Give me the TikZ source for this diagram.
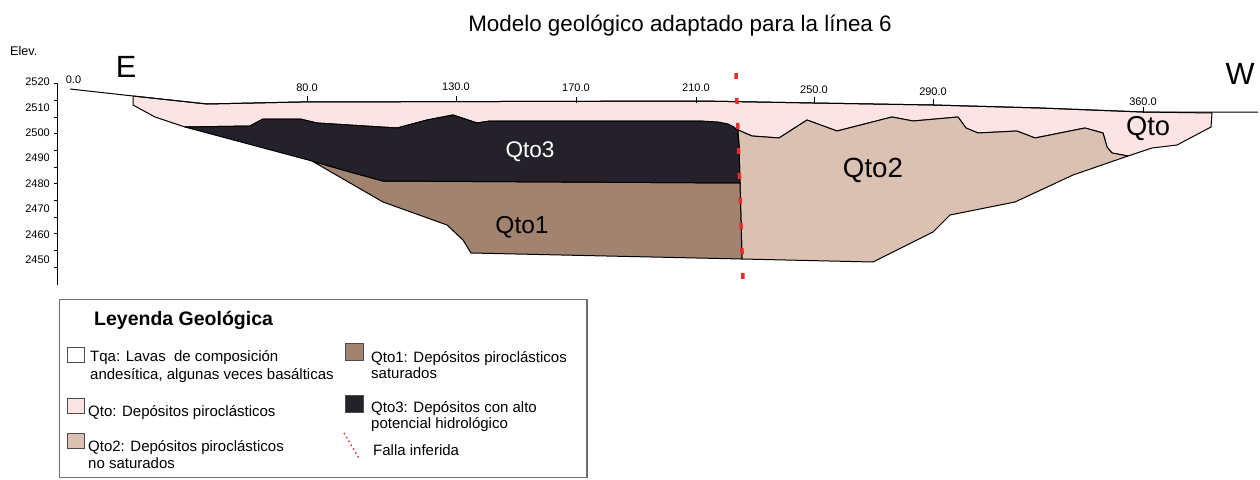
\documentclass[tikz,border=0pt]{standalone}
\usepackage{fontspec}
\setmainfont{Liberation Sans}
\usetikzlibrary{calc}

\definecolor{qtopink}{RGB}{253,228,228}
\definecolor{qtotan}{RGB}{219,193,177}
\definecolor{qtobrown}{RGB}{162,131,112}
\definecolor{qtoblack}{RGB}{36,33,43}
\definecolor{fallared}{RGB}{232,45,40}
\definecolor{legendgray}{RGB}{110,110,110}

\tikzset{
  unit/.style={draw=black, line width=1pt, line join=round},
  axlbl/.style={inner sep=0pt, font=\fontsize{11}{13}\selectfont},
  unitlbl/.style={inner sep=0pt},
  swatch/.style={draw=black!70, line width=0.9pt, inner sep=0pt},
  legtext/.style={anchor=base west, inner sep=0pt, font=\fontsize{15}{17}\selectfont},
  fault/.style={draw=fallared, line width=3.5pt, dash pattern=on 6pt off 19pt},
}

\begin{document}
\begin{tikzpicture}[x=1pt,y=-1pt]
  \useasboundingbox (0,0) rectangle (1260,479);

  % Qto, light pink cover
  \filldraw[unit, fill=qtopink] (133,96) -- (207,104) -- (300,102) -- (700,101) -- (814,103)
    -- (933,105) -- (1040,108) -- (1143,112) -- (1212,113) -- (1211,127) -- (1177,145)
    -- (1152,148) -- (1128,156) -- (1112,153) -- (1107,147) -- (1103,133) -- (1085,128)
    -- (1035,138) -- (1017,131) -- (978,133) -- (966,128) -- (958,117) -- (913,121)
    -- (892,117) -- (837,131) -- (807,120) -- (779,138) -- (752,136) -- (738,130)
    -- (733,127) -- (720,123) -- (700,121) -- (490,121) -- (477,123) -- (453,115)
    -- (427,120) -- (397,128) -- (317,123) -- (300,119) -- (263,119) -- (250,126)
    -- (185,127) -- (155,117) -- (133,105) -- cycle;

  % Qto2
  \filldraw[unit, fill=qtotan] (738,130) -- (752,136) -- (779,138) -- (807,120) -- (837,131)
    -- (892,117) -- (913,121) -- (958,117) -- (966,128) -- (978,133) -- (1017,131)
    -- (1035,138) -- (1085,128) -- (1103,133) -- (1107,147) -- (1112,153) -- (1128,156)
    -- (1073,175) -- (1015,202) -- (950,215) -- (933,232) -- (873,262) -- (742,259)
    -- (740,183) -- (739,145) -- cycle;

  % Qto1
  \filldraw[unit, fill=qtobrown] (312,161) -- (350,172) -- (383,181) -- (740,183)
    -- (742,259) -- (471,253) -- (463,240) -- (447,225) -- (383,202) -- cycle;

  % Qto3
  \filldraw[unit, fill=qtoblack] (185,127) -- (250,126) -- (263,119) -- (300,119) -- (317,123)
    -- (397,128) -- (427,120) -- (453,115) -- (477,123) -- (490,121) -- (700,121)
    -- (718,122) -- (728,124) -- (734,127) -- (737.5,131) -- (739,145) -- (740,183)
    -- (383,181) -- (350,172) -- (312,161) -- cycle;

  % topographic surface
  \draw[line width=1pt, line join=round] (70,89) -- (133,96) -- (207,104) -- (300,102)
    -- (700,101) -- (814,103) -- (933,105) -- (1040,108) -- (1143,112) -- (1258,112);

  % inferred fault
  \coordinate (fa) at (736,73);
  \coordinate (fb) at (743,281);
  \draw[fault] (fa) -- (fb);

  % elevation axis
  \draw[line width=0.9pt] (57,83) -- (57,285);
  \foreach \k in {0,...,11}
    \draw[line width=0.8pt] (57,83.5+16.7*\k) -- ++(-3,0);
  \foreach \e [count=\i from 0] in {2520,2510,2500,2490,2480,2470,2460,2450}
    \node[axlbl, anchor=east] (elev\e) at (50,82+25.4*\i) {\e};
  \node[anchor=base west, inner sep=0pt, font=\fontsize{12.6}{14}\selectfont] (elevtit) at (10,55) {Elev.};

  % distances along the section
  \node[axlbl] (d0) at (73.5,79.5) {0.0};
  \foreach \d/\x/\y/\t in {80/307/88/96, 130/456/87/96, 170/576/88/97, 210/696/88/97,
                           250/814/90/97, 290/933/92/99, 360/1143/102/107} {
    \node[axlbl] (d\d) at (\x,\y) {\d.0};
    \draw[line width=0.8pt] (\x,\t) -- (\x,\t+6);
  }

  \node[anchor=base, inner sep=0pt, font=\fontsize{22.4}{26}\selectfont] (title) at (680,31.7)
    {Modelo geológico adaptado para la línea 6};
  \node[anchor=base, inner sep=0pt, font=\fontsize{30.7}{34}\selectfont] (este) at (126,77) {E};
  \node[anchor=base, inner sep=0pt, font=\fontsize{30.7}{34}\selectfont] (oeste) at (1240,84) {W};

  % unit names
  \node[unitlbl, text=white, font=\fontsize{22.6}{26}\selectfont] (lqto3) at (530,152) {Qto3};
  \node[unitlbl, font=\fontsize{24.5}{28}\selectfont] (lqto1) at (522,227) {Qto1};
  \node[unitlbl, font=\fontsize{27.7}{31}\selectfont] (lqto2) at (873,170) {Qto2};
  \node[unitlbl, font=\fontsize{27.3}{31}\selectfont] (lqto) at (1148,129) {Qto};

  % legend
  \draw[draw=legendgray, line width=1.5pt] (59.5,299.5) rectangle (587,477.5);
  \node[anchor=base west, inner sep=0pt, font=\bfseries\fontsize{19.5}{22}\selectfont] (legtit)
    at (94,325) {Leyenda Geológica};

  \node[swatch, fill=white, minimum width=17pt, minimum height=15pt] (sqta) at (75.5,355) {};
  \node[legtext] (tqa1) at (90,361.7) {Tqa: Lavas\ \ de composición};
  \node[legtext] (tqa2) at (90,379) {andesítica, algunas veces basálticas};

  \node[swatch, fill=qtopink, minimum width=17pt, minimum height=15pt] (sqto) at (75.5,405.5) {};
  \node[legtext] (tqto) at (88,416) {Qto: Depósitos piroclásticos};

  \node[swatch, fill=qtotan, minimum width=17pt, minimum height=15pt] (sqto2) at (75.5,440.5) {};
  \node[legtext] (tqto2a) at (88,451) {Qto2: Depósitos piroclásticos};
  \node[legtext] (tqto2b) at (88,468) {no saturados};

  \node[swatch, fill=qtobrown, minimum width=18pt, minimum height=17pt] (sqto1) at (354,351.5) {};
  \node[legtext] (tqto1a) at (371,362) {Qto1: Depósitos piroclásticos};
  \node[legtext] (tqto1b) at (371,378) {saturados};

  \node[swatch, fill=qtoblack, minimum width=18pt, minimum height=17pt] (sqto3) at (354,403.5) {};
  \node[legtext] (tqto3a) at (371,412) {Qto3: Depósitos con alto};
  \node[legtext] (tqto3b) at (371,428) {potencial hidrológico};

  \coordinate (la) at (344,433);
  \coordinate (lb) at (360,460);
  \draw[draw=fallared, line width=1.4pt, dash pattern=on 1.5pt off 3pt] (la) -- (lb);
  \node[legtext] (tfalla) at (373,455) {Falla inferida};
\end{tikzpicture}
\end{document}
